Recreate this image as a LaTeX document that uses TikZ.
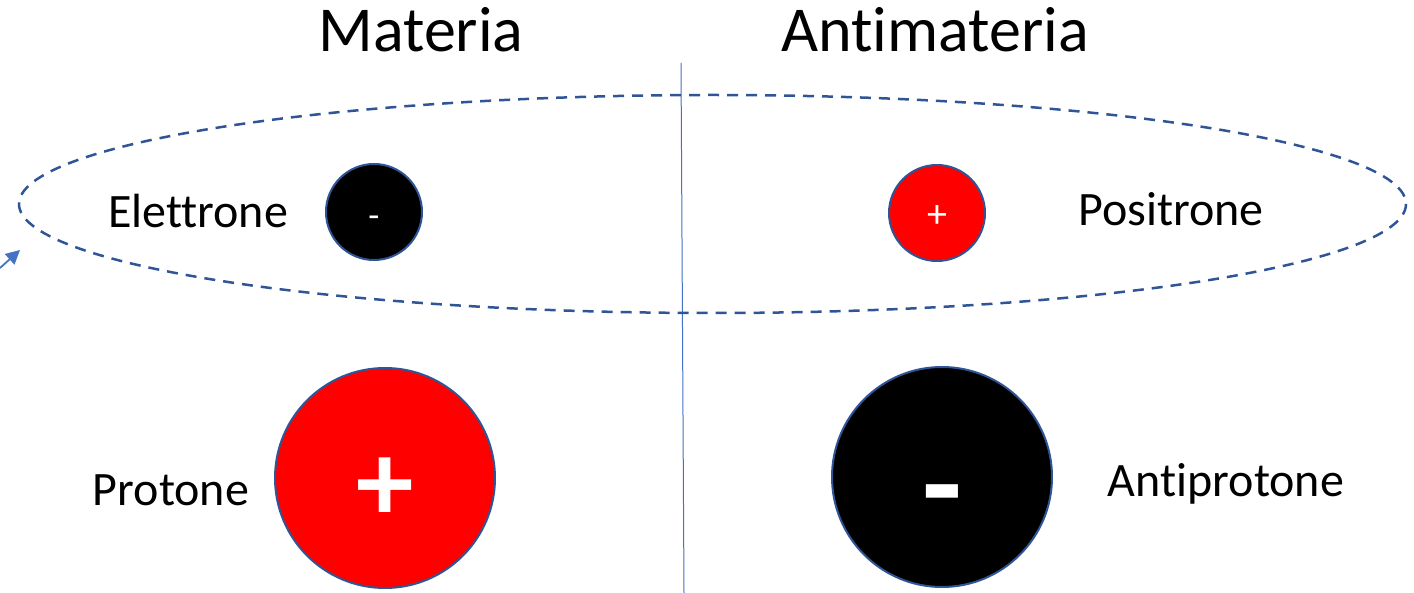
\documentclass[tikz,border=0pt]{standalone}
\usepackage{fontspec}
\setmainfont[Ligatures=NoCommon]{Carlito}
\usetikzlibrary{arrows.meta}
\definecolor{ringblue}{HTML}{2F5597}
\definecolor{lineblue}{HTML}{4472C4}
\definecolor{pred}{HTML}{FF0000}
\tikzset{
  particle/.style={circle, draw=ringblue, line width=2pt, inner sep=0pt},
  title/.style={font=\fontsize{64}{70}\selectfont, anchor=base},
  lbl/.style={font=\fontsize{48}{52}\selectfont, anchor=base},
  sign/.style={text=white, inner sep=0pt},
}
\begin{document}
\begin{tikzpicture}[x=1pt,y=-1pt]
\useasboundingbox (0,0) rectangle (1414,593);
% titles
\node[title] (mat) at (421,52) {Materia};
\node[title] (anti) at (935,52) {Antimateria};
% divider
\coordinate (dtop) at (681,63);
\coordinate (dbot) at (684,593);
\draw[lineblue, line width=1pt] (dtop) -- (dbot);
% orbit ellipse
\draw[ringblue, line width=2.5pt, dash pattern=on 11pt off 8pt] (712.5,204) ellipse [x radius=693.5, y radius=109];
% small arrow
\coordinate (as) at (0,268);
\coordinate (ae) at (20,250);
\draw[lineblue, line width=1.8pt, -{Triangle[length=14pt,width=14pt]}] (as) -- (ae);
% particles
\node[particle, fill=black, minimum size=96pt] (el) at (374,212) {};
\node[particle, fill=pred, minimum size=96pt] (po) at (937,213) {};
\node[particle, fill=pred, minimum size=220pt] (pr) at (385,478) {};
\node[particle, fill=black, minimum size=220pt] (ap) at (942,477) {};
% signs
\node[sign, font=\fontsize{36}{36}\selectfont] at ([yshift=-10pt]el.center) {-};
\node[sign, font=\fontsize{40}{40}\selectfont] at ([yshift=-4pt]po.center) {+};
\node[sign, font=\bfseries\fontsize{115}{115}\selectfont] at ([yshift=-12pt]pr.center) {+};
\node[sign, font=\bfseries\fontsize{130}{130}\selectfont] at ([yshift=-30pt]ap.center) {-};
% labels
\node[lbl] (lel) at (198,228) {Elettrone};
\node[lbl] (lpo) at (1171,226) {Positrone};
\node[lbl] (lpr) at (171,505) {Protone};
\node[lbl] (lap) at (1226,496) {Antiprotone};
\end{tikzpicture}
\end{document}
